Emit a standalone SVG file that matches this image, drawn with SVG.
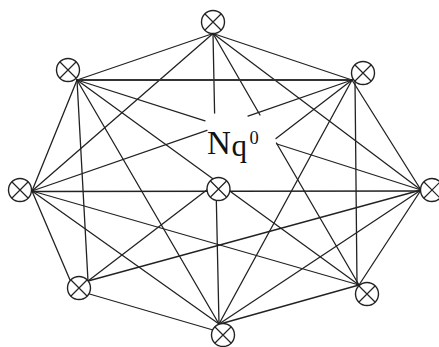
<svg xmlns="http://www.w3.org/2000/svg" width="439" height="347" viewBox="0 0 439 347">
<style>
.e{stroke:#222;stroke-width:1.3;fill:none;stroke-linecap:round}
.n circle{fill:#fff;stroke:#222;stroke-width:1.4}
.n path{stroke:#222;stroke-width:1.2;fill:none}
.lbl{font-family:"Liberation Serif","Times New Roman",serif;fill:#111}
</style>
<rect width="439" height="347" fill="#fff"/>
<g id="connectors">
<!-- T -->
<line class="e" x1="213" y1="33.5" x2="77" y2="80"/>
<line class="e" x1="213" y1="33.5" x2="32" y2="191"/>
<line class="e" x1="213" y1="33.5" x2="214.6" y2="113"/>
<line class="e" x1="216" y1="185" x2="219" y2="324"/>
<line class="e" x1="213" y1="33.5" x2="260" y2="115"/>
<line class="e" x1="276.4" y1="143" x2="359" y2="285"/>
<line class="e" x1="213" y1="33.5" x2="352" y2="80"/>
<line class="e" x1="213" y1="33.5" x2="421" y2="190"/>
<!-- UL -->
<line class="e" x1="77" y1="80" x2="352" y2="80" style="stroke-width:1.8;stroke:#333"/>
<line class="e" x1="77" y1="80" x2="205" y2="120.9"/>
<line class="e" x1="277" y1="144" x2="421" y2="190"/>
<line class="e" x1="77" y1="80" x2="359" y2="285"/>
<line class="e" x1="77" y1="80" x2="219" y2="324"/>
<line class="e" x1="77" y1="80" x2="88" y2="281"/>
<line class="e" x1="77" y1="80" x2="32" y2="191"/>
<!-- L -->
<line class="e" x1="32" y1="191" x2="207" y2="130.3"/>
<line class="e" x1="248" y1="116.1" x2="352" y2="80"/>
<line class="e" x1="32" y1="191.5" x2="421" y2="191"/>
<line class="e" x1="32" y1="191" x2="359" y2="285"/>
<line class="e" x1="32" y1="191" x2="219" y2="324"/>
<line class="e" x1="32" y1="191" x2="70" y2="280"/>
<!-- UR -->
<line class="e" x1="352" y1="80" x2="219" y2="324"/>
<line class="e" x1="352" y1="80" x2="276" y2="138.5"/>
<line class="e" x1="212" y1="186" x2="88" y2="281"/>
<line class="e" x1="355" y1="80" x2="357" y2="285"/>
<line class="e" x1="352" y1="80" x2="421" y2="190"/>
<!-- R -->
<line class="e" x1="421" y1="190" x2="359" y2="285"/>
<line class="e" x1="421" y1="190" x2="219" y2="324"/>
<line class="e" x1="421" y1="190" x2="88" y2="281"/>
<!-- LR, LL -->
<line class="e" x1="359" y1="285" x2="220" y2="324"/>
<line class="e" x1="89.5" y1="294" x2="213" y2="330"/>
</g>
<g id="node-T" class="n"><circle cx="213" cy="22" r="11.5"/><path d="M205,14 L221,30 M221,14 L205,30"/></g>
<g id="node-UL" class="n"><circle cx="68" cy="70" r="11.5"/><path d="M60,62 L76,78 M76,62 L60,78"/></g>
<g id="node-UR" class="n"><circle cx="363" cy="73" r="11.5"/><path d="M355,65 L371,81 M371,65 L355,81"/></g>
<g id="node-L" class="n"><circle cx="20" cy="190" r="11.5"/><path d="M12,182 L28,198 M28,182 L12,198"/></g>
<g id="node-R" class="n"><circle cx="432" cy="190" r="11.5"/><path d="M424,182 L440,198 M440,182 L424,198"/></g>
<g id="node-LL" class="n"><circle cx="79" cy="288" r="11.5"/><path d="M71,280 L87,296 M87,280 L71,296"/></g>
<g id="node-LR" class="n"><circle cx="367" cy="294" r="11.5"/><path d="M359,286 L375,302 M375,286 L359,302"/></g>
<g id="node-B" class="n"><circle cx="223" cy="335" r="11.5"/><path d="M215,327 L231,343 M231,327 L215,343"/></g>
<g id="node-C" class="n"><circle cx="218.5" cy="189" r="11.5"/><path d="M210.5,181 L226.5,197 M226.5,181 L210.5,197"/></g>
<g id="label-Nq0">
<text class="lbl" x="207" y="154" font-size="33">N</text>
<text class="lbl" x="231.5" y="156" font-size="31">q</text>
<text class="lbl" x="249.5" y="144" font-size="18.5">0</text>
</g>
</svg>
